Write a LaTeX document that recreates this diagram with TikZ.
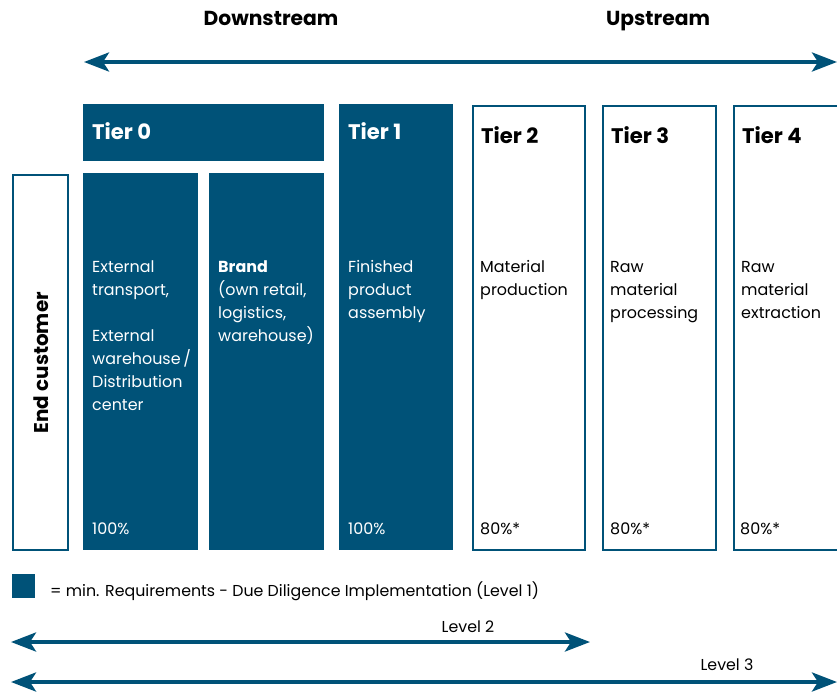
\documentclass[tikz,border=0pt]{standalone}
\usepackage{fontspec}
\setmainfont{Poppins}
\usepackage{tikz}
\usetikzlibrary{arrows.meta,positioning,calc}
\definecolor{tierblue}{RGB}{0,82,120}
\newcommand{\px}{0.03cm}
\tikzset{bodytext/.style={anchor=base west,align=left,inner sep=0pt,font=\fontsize{13.6}{19.56}\selectfont},
lvl arrow/.style={{Stealth[length=25*\px,width=19*\px,inset=6*\px]}-{Stealth[length=25*\px,width=19*\px,inset=6*\px]},color=tierblue,line width=3.4pt}}

\begin{document}
\begin{tikzpicture}[x=\px,y=-\px,
                    filled box/.style={rectangle,fill=tierblue,anchor=north west,inner sep=0pt},
                    open box/.style={rectangle,draw=tierblue,line width=2.1pt,fill=white,anchor=north west,inner sep=0pt},
                    tier label/.style={anchor=base west,inner sep=0pt,font=\fontsize{18}{20}\selectfont\bfseries},
                    small text/.style={inner sep=0pt,font=\fontsize{13.5}{16}\selectfont}]

 \clip (0,0) rectangle (837,693);

%Direction on top
 \node[anchor=base,font=\fontsize{17.3}{20}\selectfont\bfseries] (Downstream) at (271,25) {Downstream};
 \node[anchor=base,font=\fontsize{17.3}{20}\selectfont\bfseries] (Upstream) at (658,25) {Upstream};
 \coordinate (DownEnd) at (84,62);
 \coordinate (UpEnd) at (837,62);
 \draw[lvl arrow] (DownEnd)--(UpEnd);

%Tier boxes
 \node[open box,minimum width=55*\px,minimum height=375*\px] (EndCustomer) at (12,174) {};
 \node[rotate=90,font=\fontsize{17}{20}\selectfont\bfseries] (EndCustomerLabel) at (EndCustomer.center) {End customer};

 \node[filled box,minimum width=241*\px,minimum height=57*\px] (Tier0) at (83,104) {};
 \node[filled box,minimum width=115*\px,minimum height=377*\px] (Transport) at (83,173) {};
 \node[filled box,minimum width=115*\px,minimum height=377*\px] (Brand) at (209,173) {};
 \node[filled box,minimum width=114*\px,minimum height=446*\px] (Tier1) at (339,104) {};

 \node[open box,minimum width=112*\px,minimum height=444*\px] (Tier2) at (472,105) {};
 \node[open box,minimum width=113*\px,minimum height=444*\px] (Tier3) at (602,105) {};
 \node[open box,minimum width=120*\px,minimum height=444*\px] (Tier4) at (733,105) {};

%Labels of the tiers
 \node[tier label,text=white] (Tier0Label) at (92,139) {Tier 0};
 \node[tier label,text=white] (Tier1Label) at (348,139) {Tier 1};
 \node[tier label] (Tier2Label) at (481,143) {Tier 2};
 \node[tier label] (Tier3Label) at (611,143) {Tier 3};
 \node[tier label] (Tier4Label) at (742,143) {Tier 4};

%Texts in the boxes (placed at the baseline of their last line)
 \node[bodytext,text=white] (TransportText) at (92,410) {External\\transport,\\[19.56pt]External\\warehouse\,/\\Distribution\\center};
 \node[bodytext,text=white] (BrandText) at (218,341) {\textbf{Brand}\\(own retail,\\logistics,\\warehouse)};
 \node[bodytext,text=white] (Tier1Text) at (348,318) {Finished\\product\\assembly};
 \node[bodytext] (Tier2Text) at (480,295) {Material\\production};
 \node[bodytext] (Tier3Text) at (610,318) {Raw\\material\\processing};
 \node[bodytext] (Tier4Text) at (741,318) {Raw\\material\\extraction};

 \foreach \name/\x/\share/\col in {Transport/92/100\%/white,Tier1/348/100\%/white,Tier2/480/80\%*/black,Tier3/610/80\%*/black,Tier4/740/80\%*/black}
 {\node[bodytext,text=\col] (\name Share) at (\x,534) {\share};}

%Legend and levels
 \node[filled box,minimum width=23*\px,minimum height=24*\px] (LegendBox) at (12,574) {};
 \node[small text,anchor=base west] (LegendText) at (50,596) {= min. Requirements - Due Diligence Implementation (Level 1)};

 \node[small text,anchor=base] (Level2) at (468,632) {Level 2};
 \coordinate (Level2Start) at (11,642);
 \coordinate (Level2End) at (590,642);
 \draw[lvl arrow] (Level2Start)--(Level2End);

 \node[small text,anchor=base] (Level3) at (727,670) {Level 3};
 \coordinate (Level3Start) at (11,682);
 \coordinate (Level3End) at (837,682);
 \draw[lvl arrow] (Level3Start)--(Level3End);

\end{tikzpicture}
\end{document}
